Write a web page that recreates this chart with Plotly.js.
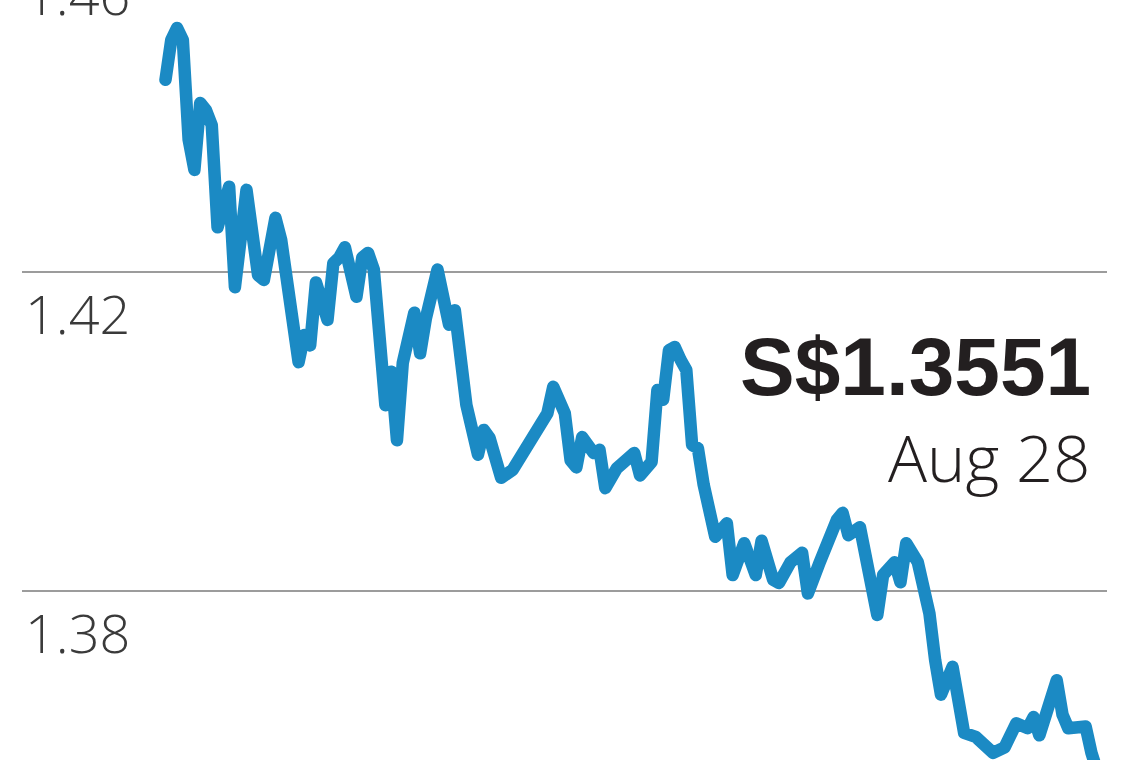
<!DOCTYPE html>
<html>
<head>
<meta charset="utf-8">
<script src="https://cdn.plot.ly/plotly-3.0.1.min.js"></script>
<style>
  html, body { margin: 0; padding: 0; background: #ffffff; overflow: hidden; width: 1140px; height: 760px; }
  #chart { position: absolute; left: 0; top: -100px; width: 1140px; height: 960px; }
  #chart path.js-line { stroke-linejoin: round !important; stroke-linecap: round !important; }
</style>
</head>
<body>
<div id="chart"></div>
<script>
// US$1 in S$
const dates = [
  "2020-03-19","2020-03-20","2020-03-21","2020-03-22","2020-03-23","2020-03-24","2020-03-25","2020-03-26","2020-03-27","2020-03-28",
  "2020-03-30","2020-03-31","2020-04-02","2020-04-04","2020-04-05","2020-04-07","2020-04-08","2020-04-11","2020-04-12","2020-04-13",
  "2020-04-14","2020-04-15","2020-04-16","2020-04-17","2020-04-18","2020-04-19","2020-04-21","2020-04-22","2020-04-23","2020-04-24",
  "2020-04-25","2020-04-26","2020-04-27","2020-04-28","2020-04-29","2020-05-01","2020-05-02","2020-05-03","2020-05-05","2020-05-06",
  "2020-05-07","2020-05-08","2020-05-09","2020-05-10","2020-05-12","2020-05-13","2020-05-14","2020-05-16","2020-05-18","2020-05-21",
  "2020-05-24","2020-05-25","2020-05-27","2020-05-28","2020-05-29","2020-05-30","2020-06-01","2020-06-02","2020-06-03","2020-06-05",
  "2020-06-07","2020-06-08","2020-06-09","2020-06-11","2020-06-12","2020-06-13","2020-06-14","2020-06-15","2020-06-16","2020-06-17",
  "2020-06-18","2020-06-19","2020-06-20","2020-06-22","2020-06-24","2020-06-25","2020-06-27","2020-06-29","2020-06-30","2020-07-02",
  "2020-07-03","2020-07-05","2020-07-07","2020-07-08","2020-07-10","2020-07-11","2020-07-13","2020-07-14","2020-07-15","2020-07-17",
  "2020-07-18","2020-07-20","2020-07-21","2020-07-23","2020-07-24","2020-07-25","2020-07-27","2020-07-29","2020-07-30","2020-07-31",
  "2020-08-02","2020-08-03","2020-08-04","2020-08-06","2020-08-08","2020-08-09","2020-08-11","2020-08-13","2020-08-15","2020-08-16",
  "2020-08-17","2020-08-20","2020-08-21","2020-08-22","2020-08-25","2020-08-26","2020-08-28"
];
const rates = [
  1.4441,1.4491,1.4506,1.4491,1.4366,1.4328,1.4412,1.4403,1.4384,1.4256,
  1.4307,1.4181,1.4303,1.4196,1.4190,1.4268,1.4240,1.4087,1.4121,1.4108,
  1.4187,1.4165,1.4140,1.4211,1.4218,1.4231,1.4169,1.4218,1.4224,1.4203,
  1.4121,1.4033,1.4075,1.3989,1.4086,1.4149,1.4098,1.4142,1.4203,1.4165,
  1.4134,1.4152,1.4096,1.4033,1.3971,1.4002,1.3992,1.3942,1.3952,1.3989,
  1.4023,1.4056,1.4023,1.3964,1.3955,1.3993,1.3973,1.3977,1.3929,1.3954,
  1.3967,1.3973,1.3945,1.3962,1.4052,1.4040,1.4102,1.4106,1.4090,1.4077,
  1.3983,1.3979,1.3933,1.3868,1.3885,1.3820,1.3860,1.3820,1.3863,1.3814,
  1.3810,1.3836,1.3848,1.3797,1.3835,1.3854,1.3889,1.3898,1.3870,1.3880,
  1.3848,1.3770,1.3820,1.3836,1.3811,1.3860,1.3836,1.3772,1.3713,1.3670,
  1.3705,1.3657,1.3622,1.3617,1.3604,1.3597,1.3604,1.3634,1.3628,1.3642,
  1.3619,1.3688,1.3645,1.3628,1.3630,1.3597,1.3551
];
const tickValues = [1.38, 1.42, 1.46];
const tickLabels = ["1.38", "1.42", "1.46"];
const latestLabel = "S$1.3551";
const latestDate = "Aug 28";

const trace = {
  type: "scatter",
  mode: "lines",
  x: dates,
  y: rates,
  line: { color: "#1b8ac4", width: 12.5, shape: "linear" },
  hoverinfo: "x+y"
};

const layout = {
  width: 1140,
  height: 960,
  margin: { l: 22, r: 33, t: 0, b: 0, pad: 0 },
  paper_bgcolor: "#ffffff",
  plot_bgcolor: "#ffffff",
  showlegend: false,
  xaxis: {
    type: "date",
    range: ["2020-02-23 05:00", "2020-08-28 16:30"],
    showgrid: false, zeroline: false, showline: false,
    showticklabels: false, ticks: ""
  },
  yaxis: {
    range: [1.34627, 1.46665],
    tickvals: tickValues,
    ticktext: tickLabels,
    showgrid: true,
    gridcolor: "#9c9c9c",
    gridwidth: 2,
    zeroline: false, showline: false, ticks: "",
    ticklabelposition: "inside",
    ticklabelshift: 43,
    tickfont: { family: "Open Sans, sans-serif", size: 54, color: "#3a3a3a", weight: 300 }
  },
  annotations: [
    {
      xref: "paper", yref: "y", x: 1, y: 1.4081,
      xanchor: "right", yanchor: "middle", xshift: -14,
      text: latestLabel, showarrow: false,
      font: { family: "Liberation Sans, Arial, sans-serif", size: 82, color: "#231f20", weight: 700 }
    },
    {
      xref: "paper", yref: "y", x: 1, y: 1.3968,
      xanchor: "right", yanchor: "middle", xshift: -15,
      text: latestDate, showarrow: false,
      font: { family: "Open Sans, sans-serif", size: 65, color: "#231f20", weight: 300 }
    }
  ]
};

Plotly.newPlot("chart", [trace], layout, { displayModeBar: false, staticPlot: true });
</script>
</body>
</html>
